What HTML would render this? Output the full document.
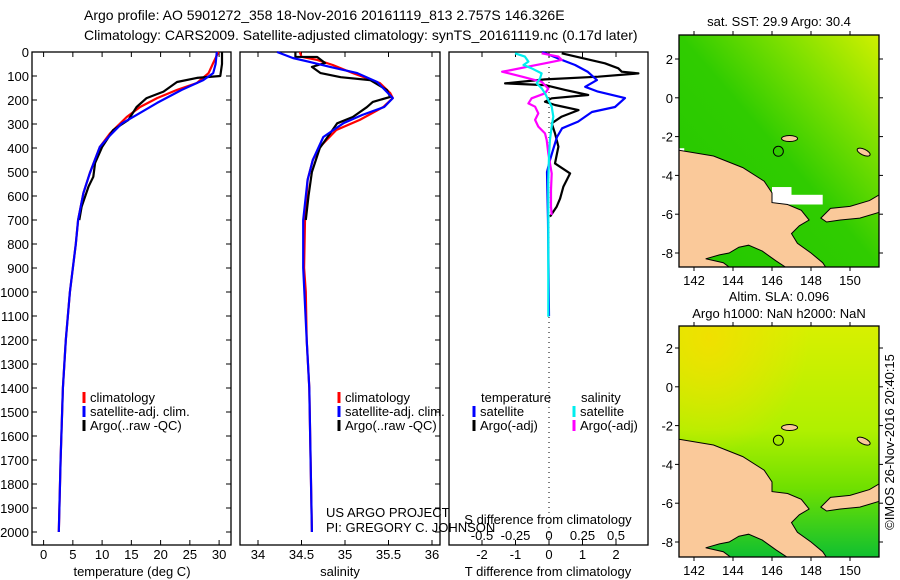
<!DOCTYPE html>
<html><head><meta charset="utf-8">
<style>
html,body{margin:0;padding:0;background:#fff;}
svg{display:block;font-family:"Liberation Sans",sans-serif;}
</style></head>
<body>
<svg id="root" width="900" height="580" viewBox="0 0 900 580">
<defs>
<linearGradient id="sstg" x1="0" y1="1" x2="1" y2="0">
<stop offset="0" stop-color="#22c800"/><stop offset="0.5" stop-color="#30cc00"/><stop offset="0.75" stop-color="#7ee000"/><stop offset="1" stop-color="#d0f000"/></linearGradient>
<linearGradient id="slag" x1="0" y1="0" x2="0" y2="1">
<stop offset="0" stop-color="#d8f000"/><stop offset="0.45" stop-color="#b0f000"/><stop offset="0.7" stop-color="#70e000"/><stop offset="1" stop-color="#10c030"/></linearGradient>
<radialGradient id="slay" cx="0.15" cy="0.05" r="0.5"><stop offset="0" stop-color="#f0e000"/><stop offset="1" stop-color="#f0e000" stop-opacity="0"/></radialGradient>
</defs>
<text x="84" y="20" font-size="14">Argo profile: AO 5901272_358 18-Nov-2016 20161119_813 2.757S 146.326E</text>
<text x="84" y="40" font-size="14">Climatology: CARS2009. Satellite-adjusted climatology: synTS_20161119.nc (0.17d later)</text>
<g id="g1"></g>
<g id="g2"></g>
<g id="g3"></g>
<g id="m1"></g>
<g id="m2"></g>
<text transform="translate(894,442) rotate(-90)" text-anchor="middle" font-size="13">©IMOS 26-Nov-2016 20:40:15</text>
</svg>
<script>
// ---- data ----
const depthTicks=[0,100,200,300,400,500,600,700,800,900,1000,1100,1200,1300,1400,1500,1600,1700,1800,1900,2000];
const tempTicks=[0,5,10,15,20,25,30];
const salTicks=[34,34.5,35,35.5,36];
const salTickLabels=["34","34.5","35","35.5","36"];
const dTTicks=[-2,-1,0,1,2];
const dSTicks=[-0.5,-0.25,0,0.25,0.5];
const dSTickLabels=["-0.5","-0.25","0","0.25","0.5"];

const climTDepth=[0,46,88,129,158,192,229,271,338,396,505,588,700,800,1000,1200,1400,1700,2000];
const climTVal=[29.9,29,28.2,26.2,22.8,19.4,16.5,14.2,11.4,9.6,7.9,6.8,5.9,5.5,4.5,3.8,3.3,2.9,2.6];
const satTDepth=[0,50,88,117,158,212,262,297,354,396,505,588,700,800,1000,1200,1400,1700,2000];
const satTVal=[29.6,29.4,29,27.3,23.6,19.4,15.9,13.4,11.1,9.6,7.9,6.8,5.9,5.5,4.5,3.8,3.3,2.9,2.6];
const argoTDepth=[0,50,100,108,125,165,192,229,283,325,396,462,520,560,645,700];
const argoTVal=[30.5,30.5,30.2,26.2,22.8,20.5,17.6,15.9,14.5,11.9,10,8.8,8.5,7.7,6.5,6.1];

const climSDepth=[0,20,33,54,88,129,171,192,229,283,325,396,450,533,700,900,1000,1200,1400,2000];
const climSVal=[34.48,34.5,34.68,34.86,35.09,35.4,35.52,35.55,35.44,35.17,34.9,34.71,34.63,34.57,34.54,34.53,34.55,34.56,34.59,34.62];
const satSDepth=[0,25,42,62,88,125,192,229,262,297,354,450,533,700,900,1200,1400,2000];
const satSVal=[34.22,34.4,34.6,34.83,35.14,35.37,35.55,35.45,35.2,34.98,34.75,34.63,34.57,34.52,34.52,34.56,34.59,34.62];
const argoSDepth=[0,20,21,46,62,88,105,117,158,187,208,230,271,297,354,400,500,600,700];
const argoSVal=[34.43,34.43,34.68,34.77,34.62,34.72,34.95,35.29,35.48,35.52,35.32,35.25,35.09,34.91,34.8,34.71,34.62,34.58,34.55];

const dTsatDepth=[0,33,54,83,117,145,165,192,229,250,290,318,354,408,450,500,700,1100];
const dTsatVal=[-0.2,0.38,0.78,1.16,1.43,1.08,1.46,2.27,1.97,1.28,0.87,0.39,0.24,0.12,0.03,-0.06,-0.03,0];
const dTargoDepth=[5.6,47,68,82,89,103,114,131,138,158,179,193,207,221,242,269,297,339,394,464,506,561,611,644,686];
const dTargoVal=[0.38,1.67,2.07,2.17,2.67,1.47,-0.12,-1.31,-0.12,0.48,1.17,0.08,-0.12,0.18,0.88,0.38,0.08,0.18,0.28,0.18,0.63,0.43,0.33,0.23,0.03];
const dSsatDepth=[5.6,19,40,54,68,89,110,131,151,172,200,228,269,311,367,436,533,714,922,1103];
const dSsatVal=[-0.254,-0.18,-0.154,-0.19,-0.13,-0.055,-0.067,-0.092,-0.055,-0.03,-0.005,0.02,0.032,0.02,0.007,0,-0.005,-0.005,-0.005,-0.005];
const dSargoDepth=[5.6,19,33,47,61,75,82,103,124,153,172,193,214,228,256,283,311,339,367,422,506,575,644,679];
const dSargoVal=[-0.055,0.07,0.095,-0.03,-0.154,-0.28,-0.35,-0.2,-0.055,-0.005,-0.03,-0.13,-0.154,-0.104,-0.08,-0.104,-0.08,-0.03,-0.017,-0.005,0.02,0.015,0.015,0.02];

const lonTicks=[142,144,146,148,150];
const map1LatTicks=[2,0,-2,-4,-6,-8];
const argoLon=146.326, argoLat=-2.757;

// ---- helpers ----
const NS="http://www.w3.org/2000/svg";
function mk(parent,tag,attrs){const e=document.createElementNS(NS,tag);for(const k in attrs)e.setAttribute(k,attrs[k]);parent.appendChild(e);return e;}
const TOP=52, BOT=545;
const yD=d=>TOP+d*0.24;
const xT=t=>43.6+t*5.85;
const xS=s=>258+(s-34)*87;
const xDT=v=>549+v*33.5;
const xDS=v=>549+v*134;

function line(g,xs,ys,fx,color,w,name){
  let d="";for(let i=0;i<xs.length;i++){d+=(i?"L":"M")+fx(xs[i]).toFixed(1)+","+yD(ys[i]).toFixed(1);}
  const p=mk(g,"path",{d:d,fill:"none",stroke:color,"stroke-width":w,"stroke-linejoin":"round"});
  
  
}
function frame(g,x0,x1,name){
  const r=mk(g,"rect",{x:x0,y:TOP,width:x1-x0,height:BOT-TOP,fill:"none",stroke:"#000","stroke-width":1.3});
  
  
}
function txt(g,x,y,s,anchor,size,name){
  const t=mk(g,"text",{x:x,y:y,"text-anchor":anchor||"start","font-size":size||13});t.textContent=s;
  
  
  return t;
}
function legend(g,x,y,color,label,name){
  mk(g,"rect",{x:x-1.5,y:y-10,width:3,height:11,fill:color});
  txt(g,x+6,y,label,"start",13,name);
}

// ---- panel 1 ----
const g1=document.getElementById('g1');
frame(g1,32,231,'temperature-frame');
depthTicks.forEach(d=>{
  const y=yD(d);
  mk(g1,"line",{x1:32,y1:y,x2:37,y2:y,stroke:"#000"});
  mk(g1,"line",{x1:226,y1:y,x2:231,y2:y,stroke:"#000"});
  mk(g1,"line",{x1:435,y1:y,x2:440,y2:y,stroke:"#000"});
  txt(g1,29,y+5,String(d),"end",13,'depth-tick-label');
});
tempTicks.forEach(t=>{const x=xT(t);
  mk(g1,"line",{x1:x,y1:BOT,x2:x,y2:BOT-5,stroke:"#000"});
  mk(g1,"line",{x1:x,y1:TOP,x2:x,y2:TOP+5,stroke:"#000"});
  txt(g1,x,559,String(t),"middle",13,'temperature-tick-label');});
txt(g1,132,576,"temperature (deg C)","middle",13,'temperature-axis-title');
line(g1,climTVal,climTDepth,xT,"#f00",2.2,'temp-climatology-line');
line(g1,argoTVal,argoTDepth,xT,"#000",2.2,'temp-argo-line');
line(g1,satTVal,satTDepth,xT,"#00f",2.2,'temp-satellite-line');
legend(g1,84,402,"#f00","climatology",'legend-climatology');
legend(g1,84,416,"#00f","satellite-adj. clim.",'legend-satellite');
legend(g1,84,430,"#000","Argo(..raw -QC)",'legend-argo');

// ---- panel 2 ----
const g2=document.getElementById('g2');
frame(g2,240,440,'salinity-frame');
salTicks.forEach((s,i)=>{const x=xS(s);
  mk(g2,"line",{x1:x,y1:BOT,x2:x,y2:BOT-5,stroke:"#000"});
  mk(g2,"line",{x1:x,y1:TOP,x2:x,y2:TOP+5,stroke:"#000"});
  txt(g2,x,559,salTickLabels[i],"middle",13,'salinity-tick-label');});
txt(g2,340,576,"salinity","middle",13,'salinity-axis-title');
line(g2,climSVal,climSDepth,xS,"#f00",2.2,'sal-climatology-line');
line(g2,argoSVal,argoSDepth,xS,"#000",2.2,'sal-argo-line');
line(g2,satSVal,satSDepth,xS,"#00f",2.2,'sal-satellite-line');
legend(g2,339,402,"#f00","climatology",'legend-climatology');
legend(g2,339,416,"#00f","satellite-adj. clim.",'legend-satellite');
legend(g2,339,430,"#000","Argo(..raw -QC)",'legend-argo');
txt(g2,326,517,"US ARGO PROJECT","start",13,'project-label');
txt(g2,326,532,"PI: GREGORY C. JOHNSON","start",13,'pi-label');

// ---- panel 3 ----
const g3=document.getElementById('g3');
frame(g3,449,648,'difference-frame');
mk(g3,"line",{x1:549,y1:TOP,x2:549,y2:BOT,stroke:"#000","stroke-dasharray":"1,4"});
dTTicks.forEach(v=>{const x=xDT(v);
  mk(g3,"line",{x1:x,y1:BOT,x2:x,y2:BOT-5,stroke:"#000"});
  mk(g3,"line",{x1:x,y1:TOP,x2:x,y2:TOP+5,stroke:"#000"});
  txt(g3,x,559,String(v),"middle",13,'t-diff-tick-label');});
dSTicks.forEach((v,i)=>txt(g3,xDS(v),540,dSTickLabels[i],"middle",13,'s-diff-tick-label'));
txt(g3,548,524,"S difference from climatology","middle",13,'s-diff-axis-title');
txt(g3,548,576,"T difference from climatology","middle",13,'t-diff-axis-title');
line(g3,dTargoVal,dTargoDepth,xDT,"#000",2.2,'t-diff-argo-line');
line(g3,dTsatVal,dTsatDepth,xDT,"#00f",2.2,'t-diff-satellite-line');
line(g3,dSargoVal,dSargoDepth,xDS,"#f0f",2.2,'s-diff-argo-line');
line(g3,dSsatVal,dSsatDepth,xDS,"#0ee",2.2,'s-diff-satellite-line');
txt(g3,481,402,"temperature","start",13,'legend-temperature-header');
txt(g3,581,402,"salinity","start",13,'legend-salinity-header');
legend(g3,474,416,"#00f","satellite",'legend-t-satellite');
legend(g3,474,430,"#000","Argo(-adj)",'legend-t-argo');
legend(g3,574,416,"#0ee","satellite",'legend-s-satellite');
legend(g3,574,430,"#f0f","Argo(-adj)",'legend-s-argo');

// ---- maps ----
const mainland=[[141.2,-2.7],[143,-3.0],[144.5,-3.6],[145.6,-4.3],[146,-4.9],[146,-5.4],[146.8,-5.5],[147.5,-5.8],[147.9,-6.3],[147.4,-6.6],[147.0,-7.0],[147.3,-7.5],[148,-8.0],[148.6,-8.5],[148.8,-8.8],[146.8,-8.8],[146.2,-8.4],[145.5,-7.9],[144.8,-7.6],[144.3,-7.7],[143.8,-8.0],[143.3,-8.1],[142.6,-8.3],[143.5,-8.5],[143.9,-8.8],[141.2,-8.8]];
const newBritain=[[148.5,-6.2],[149,-5.7],[150,-5.6],[151,-5.3],[151.5,-5.0],[151.5,-5.9],[150.5,-6.2],[149.5,-6.3],[148.8,-6.4]];
const sstGaps=[[146.0,-4.6,1.0,0.9],[146.6,-5.0,2.0,0.5],[141.2,-2.6,0.3,0.2]];
function drawMap(g,top,bot,lat2y,fill,title1,title2,prefix){
  const L=679,R=879;
  const xL=lon=>850+(lon-150)*19.5;
  const yL=lat=>lat2y+(2-lat)*19.4;
  const cid=prefix+"clip";
  const cp=mk(document.querySelector('defs'),"clipPath",{id:cid});
  mk(cp,"rect",{x:L,y:top,width:R-L,height:bot-top});
  const inner=mk(g,"g",{"clip-path":"url(#"+cid+")"});
  const bg=mk(inner,"rect",{x:L,y:top,width:R-L,height:bot-top,fill:fill});
  
  
  if(prefix==="sla"){mk(inner,"rect",{x:L,y:top,width:R-L,height:bot-top,fill:"url(#slay)"});}
  if(prefix==="sst"){sstGaps.forEach(r=>mk(inner,"rect",{x:xL(r[0]),y:yL(r[1]),width:r[2]*19.5,height:r[3]*19.4,fill:"#fff"}));}
  const pts=a=>a.map(p=>xL(p[0]).toFixed(1)+","+yL(p[1]).toFixed(1)).join(" ");
  const land=mk(inner,"polygon",{points:pts(mainland),fill:"#fac99a",stroke:"#000","stroke-width":1});
  
  
  const nb=mk(inner,"polygon",{points:pts(newBritain),fill:"#fac99a",stroke:"#000","stroke-width":1});
  
  
  mk(inner,"ellipse",{cx:xL(146.9),cy:yL(-2.1),rx:8,ry:3,fill:"#fac99a",stroke:"#000"});
  mk(inner,"ellipse",{cx:xL(150.7),cy:yL(-2.8),rx:7,ry:3,fill:"#fac99a",stroke:"#000",transform:"rotate(25 "+xL(150.7)+" "+yL(-2.8)+")"});
  const c=mk(inner,"circle",{cx:xL(argoLon),cy:yL(argoLat),r:5,fill:"none",stroke:"#000"});
  
  
  const fr=mk(g,"rect",{x:L,y:top,width:R-L,height:bot-top,fill:"none",stroke:"#000","stroke-width":1.3});
  
  
  lonTicks.forEach(lon=>{const x=xL(lon);
    mk(g,"line",{x1:x,y1:top,x2:x,y2:top-4,stroke:"#000"});
    mk(g,"line",{x1:x,y1:bot,x2:x,y2:bot+4,stroke:"#000"});
    txt(g,x,bot+18,String(lon),"middle",13,'longitude-tick-label');});
  map1LatTicks.forEach(lat=>{const y=yL(lat);
    mk(g,"line",{x1:L,y1:y,x2:L-4,y2:y,stroke:"#000"});
    mk(g,"line",{x1:R,y1:y,x2:R+4,y2:y,stroke:"#000"});
    txt(g,L-6,y+5,String(lat),"end",13,'latitude-tick-label');});
  if(title1)txt(g,779,top-9-(title2?16:0),title1,"middle",13,prefix+'-map-title');
  if(title2)txt(g,779,top-8,title2,"middle",13,prefix+'-map-subtitle');
}
drawMap(document.getElementById('m1'),35,267,59,"url(#sstg)","sat. SST: 29.9 Argo: 30.4","","sst");
drawMap(document.getElementById('m2'),326,557,348,"url(#slag)","Altim. SLA: 0.096","Argo h1000: NaN h2000: NaN","sla");
</script>
</body></html>
